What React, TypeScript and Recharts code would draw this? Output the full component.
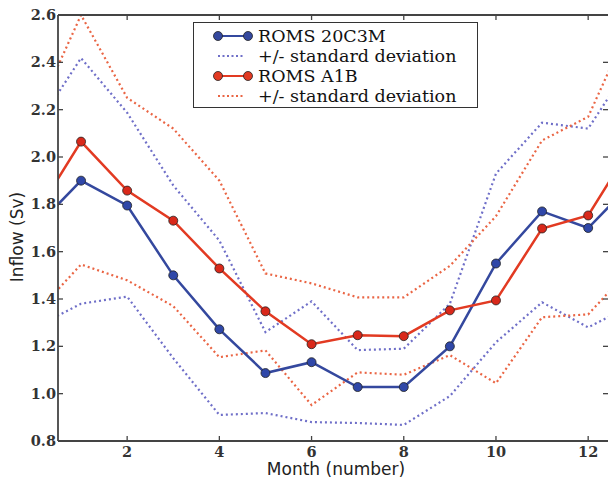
import React from "react";
import { LineChart, Line, XAxis, YAxis } from "recharts";

const months = [1, 2, 3, 4, 5, 6, 7, 8, 9, 10, 11, 12];
const blueMean = [1.9, 1.795, 1.5, 1.272, 1.087, 1.133, 1.028, 1.028, 1.2, 1.55, 1.77, 1.7];
const redMean = [2.065, 1.858, 1.731, 1.529, 1.348, 1.209, 1.247, 1.243, 1.352, 1.394, 1.698, 1.753];
const blueUpper = [2.418, 2.187, 1.88, 1.647, 1.26, 1.39, 1.184, 1.19, 1.38, 1.93, 2.145, 2.12];
const blueLower = [1.38, 1.41, 1.15, 0.91, 0.918, 0.88, 0.876, 0.868, 0.99, 1.217, 1.386, 1.28];
const redUpper = [2.6, 2.25, 2.12, 1.9, 1.508, 1.466, 1.407, 1.407, 1.54, 1.75, 2.07, 2.17];
const redLower = [1.546, 1.479, 1.37, 1.154, 1.183, 0.952, 1.09, 1.08, 1.163, 1.044, 1.323, 1.335];
const xTicks = [2, 4, 6, 8, 10, 12];
const yTicks = [0.8, 1.0, 1.2, 1.4, 1.6, 1.8, 2.0, 2.2, 2.4, 2.6];

const legendItems = [
  { label: "ROMS 20C3M", color: "#34489e", dotted: false },
  { label: "+/- standard deviation", color: "#6f6fc8", dotted: true },
  { label: "ROMS A1B", color: "#e23a22", dotted: false },
  { label: "+/- standard deviation", color: "#ea6544", dotted: true },
];

// periodic wrap: month 0 = December, month 13 = January
const row = (i: number, m: number) => ({
  month: m,
  blueMean: blueMean[i],
  redMean: redMean[i],
  blueUpper: blueUpper[i],
  blueLower: blueLower[i],
  redUpper: redUpper[i],
  redLower: redLower[i],
});
const data = [row(11, 0), ...months.map((m, i) => row(i, m)), row(0, 13)];

const AXIS = "#444";
const serif = "'DejaVu Serif', 'Liberation Serif', serif";
const sans = "'DejaVu Sans', sans-serif";

const XTick = (props: any) => {
  const { x, y, payload } = props;
  return (
    <g>
      <line x1={x} x2={x} y1={y} y2={y - 5} stroke={AXIS} strokeWidth={1.3} />
      <text x={x} y={y + 16} textAnchor="middle" fontFamily={serif} fontSize={14.5} fill="#333" fontWeight={600}>
        {payload.value}
      </text>
    </g>
  );
};
const TopTick = (props: any) => {
  const { x, y } = props;
  return <line x1={x} x2={x} y1={y} y2={y + 5} stroke={AXIS} strokeWidth={1.3} />;
};
const YTick = (props: any) => {
  const { x, y, payload } = props;
  return (
    <g>
      <line x1={x} x2={x + 5} y1={y} y2={y} stroke={AXIS} strokeWidth={1.3} />
      <text x={x - 2} y={y + 5} textAnchor="end" fontFamily={serif} fontSize={14.5} fill="#333" fontWeight={600}>
        {Number(payload.value).toFixed(1)}
      </text>
    </g>
  );
};
const RTick = (props: any) => {
  const { x, y } = props;
  return <line x1={x} x2={x - 5} y1={y} y2={y} stroke={AXIS} strokeWidth={1.3} />;
};

const makeDot = (fill: string) => (props: any) => {
  const { cx, cy, payload, index } = props;
  if (payload.month < 1 || payload.month > 12) return <g key={index} />;
  return <circle key={index} cx={cx} cy={cy} r={4.5} fill={fill} stroke="#222" strokeWidth={0.8} />;
};

const LegendBox = () => (
  <div
    style={{
      position: "absolute",
      left: 193,
      top: 22,
      border: "1.5px solid #333",
      background: "#fff",
      width: 285,
      height: 86,
      boxSizing: "border-box",
      padding: "3px 0 0 0",
      fontFamily: serif,
      fontSize: 17.5,
      color: "#111",
    }}
  >
    {legendItems.map((it, i) => (
      <div key={i} style={{ display: "flex", alignItems: "center", height: 20 }}>
        <svg width={64} height={14} style={{ flex: "none" }}>
          {it.dotted ? (
            <line x1={24} x2={50} y1={7} y2={7} stroke={it.color} strokeWidth={2} strokeDasharray="2 2.5" />
          ) : (
            <g>
              <line x1={24} x2={54} y1={7} y2={7} stroke={it.color} strokeWidth={2} />
              <circle cx={24} cy={7} r={4.5} fill={it.color} stroke="#222" strokeWidth={0.8} />
              <circle cx={54} cy={7} r={4.5} fill={it.color} stroke="#222" strokeWidth={0.8} />
            </g>
          )}
        </svg>
        <span style={{ lineHeight: "20px", whiteSpace: "nowrap" }}>{it.label}</span>
      </div>
    ))}
  </div>
);

export default function App() {
  return (
    <div style={{ position: "absolute", left: 0, top: 0, width: 609, height: 481, background: "#fff", overflow: "hidden" }}>
      <LineChart width={609} height={481} data={data} margin={{ top: 14, right: 0, bottom: 0, left: 0 }}>
        <XAxis
          dataKey="month"
          type="number"
          domain={[0.5, 12.43]}
          allowDataOverflow
          ticks={xTicks}
          height={40}
          tickSize={0}
          tickMargin={0}
          tickLine={false}
          axisLine={{ stroke: AXIS, strokeWidth: 1.8 }}
          tick={<XTick />}
          interval={0}
        />
        <XAxis
          xAxisId="top"
          orientation="top"
          dataKey="month"
          type="number"
          domain={[0.5, 12.43]}
          allowDataOverflow
          ticks={xTicks}
          height={1}
          tickSize={0}
          tickMargin={0}
          tickLine={false}
          axisLine={{ stroke: AXIS, strokeWidth: 1.8 }}
          tick={<TopTick />}
          interval={0}
        />
        <YAxis
          type="number"
          domain={[0.8, 2.6]}
          allowDataOverflow
          ticks={yTicks}
          width={58}
          tickSize={0}
          tickMargin={0}
          tickLine={false}
          axisLine={{ stroke: AXIS, strokeWidth: 1.8 }}
          tick={<YTick />}
          interval={0}
        />
        <YAxis
          yAxisId="r"
          orientation="right"
          type="number"
          domain={[0.8, 2.6]}
          allowDataOverflow
          ticks={yTicks}
          width={1}
          tickSize={0}
          tickMargin={0}
          tickLine={false}
          axisLine={false}
          tick={<RTick />}
          interval={0}
        />
        <Line dataKey="blueUpper" stroke="#6f6fc8" strokeWidth={2.2} strokeDasharray="2 3" dot={false} isAnimationActive={false} />
        <Line dataKey="blueLower" stroke="#6f6fc8" strokeWidth={2.2} strokeDasharray="2 3" dot={false} isAnimationActive={false} />
        <Line dataKey="redUpper" stroke="#ea6544" strokeWidth={2.2} strokeDasharray="2 3" dot={false} isAnimationActive={false} />
        <Line dataKey="redLower" stroke="#ea6544" strokeWidth={2.2} strokeDasharray="2 3" dot={false} isAnimationActive={false} />
        <Line dataKey="blueMean" stroke="#34489e" strokeWidth={2.5} dot={makeDot("#2f47a8")} isAnimationActive={false} />
        <Line dataKey="redMean" stroke="#e23a22" strokeWidth={2.5} dot={makeDot("#d9281a")} isAnimationActive={false} />
      </LineChart>
      <LegendBox />
      <svg width={609} height={481} style={{ position: "absolute", left: 0, top: 0, pointerEvents: "none" }}>
        <text x={336} y={475} textAnchor="middle" fontFamily={sans} fontSize={17} fill="#222">
          Month (number)
        </text>
        <text
          x={0}
          y={0}
          transform="translate(23 237) rotate(-90)"
          textAnchor="middle"
          fontFamily={sans}
          fontSize={17}
          fill="#222"
        >
          Inflow (Sv)
        </text>
      </svg>
    </div>
  );
}
